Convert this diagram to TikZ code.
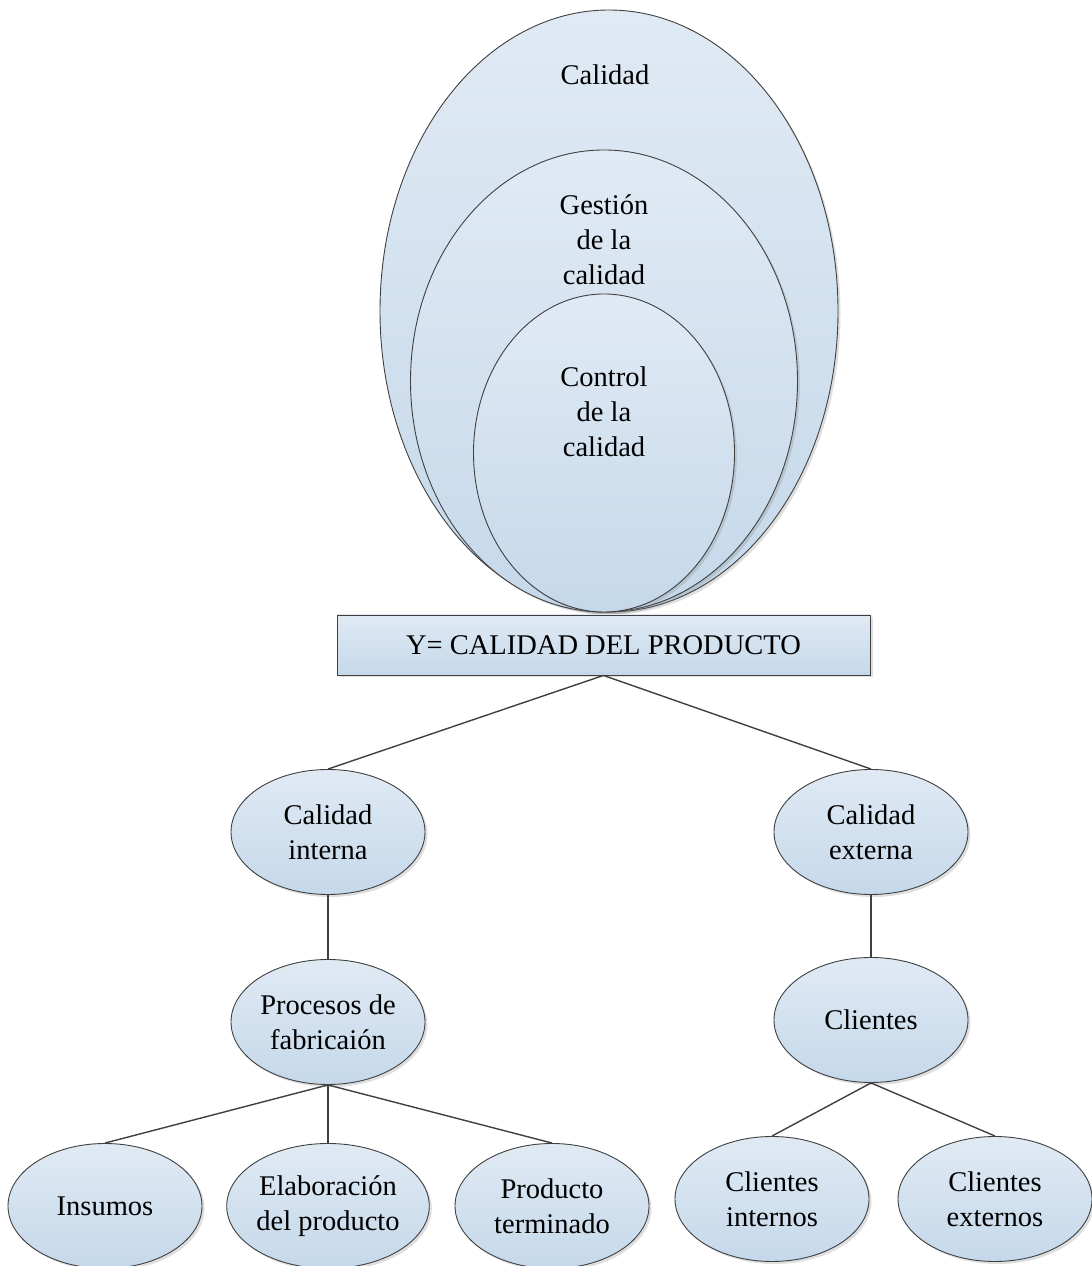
\documentclass[tikz,border=0pt]{standalone}
\usepackage{fontspec}
\setmainfont{Liberation Serif}
\usetikzlibrary{shapes.geometric,shadows}
\definecolor{filltop}{RGB}{224,234,244}
\definecolor{fillbot}{RGB}{197,216,234}
\definecolor{edge}{RGB}{64,64,64}
\tikzset{
  x=1pt, y=1pt,
  blob/.style={ellipse, draw=edge, line width=0.9pt, top color=filltop, bottom color=fillbot,
    inner sep=0pt, align=center,
    drop shadow={shadow xshift=2.5pt, shadow yshift=-2.5pt, opacity=0.25, fill=gray}},
  leaf/.style={blob, minimum width=194pt, minimum height=125pt},
  boxnode/.style={rectangle, draw=edge, line width=0.9pt, top color=filltop, bottom color=fillbot,
    minimum width=533pt, minimum height=60pt, inner sep=0pt,
    drop shadow={shadow xshift=2.5pt, shadow yshift=-2.5pt, opacity=0.25, fill=gray}},
  lbl/.style={align=center, inner sep=0pt},
  link/.style={draw=edge, line width=1.4pt},
}
\begin{document}
\begin{tikzpicture}[font=\fontsize{28.5}{35}\selectfont]
\useasboundingbox (0,0) rectangle (1092,1266);

% nested ellipses
\node[blob, minimum width=458pt, minimum height=602pt] (calidad) at (609,955) {};
\node[blob, minimum width=387pt, minimum height=462pt] (gestion) at (604,885) {};
\node[blob, minimum width=261pt, minimum height=318pt] (control) at (604,813) {};
\node[lbl] (tcal) at (605,1191) {Calidad};
\node[lbl] (tges) at (604,1026) {Gestión\\de la\\calidad};
\node[lbl] (tcon) at (604,854) {Control\\de la\\calidad};

% product quality box
\node[boxnode] (prod) at (603.5,621) {Y= CALIDAD DEL PRODUCTO};

% second level
\node[leaf] (cint) at (328,434) {Calidad\\interna};
\node[leaf] (cext) at (871,434) {Calidad\\externa};

% third level
\node[leaf] (proc) at (328,244) {Procesos de\\fabricaión};
\node[leaf] (clie) at (871,246) {Clientes};

% leaves
\node[leaf] (insu) at (105,60) {Insumos};
\node[leaf] (elab) at (328,60) {Elaboración\\del producto};
\node[leaf] (pter) at (552,60) {Producto\\terminado};
\node[leaf] (clin) at (772,67) {Clientes\\internos};
\node[leaf] (clex) at (995,67) {Clientes\\externos};

% connectors
\draw[link] (prod.south) -- (cint.north);
\draw[link] (prod.south) -- (cext.north);
\draw[link] (cint.south) -- (proc.north);
\draw[link] (cext.south) -- (clie.north);
\draw[link] (proc.south) -- (insu.north);
\draw[link] (proc.south) -- (elab.north);
\draw[link] (proc.south) -- (pter.north);
\draw[link] (clie.south) -- (clin.north);
\draw[link] (clie.south) -- (clex.north);
\end{tikzpicture}
\end{document}
